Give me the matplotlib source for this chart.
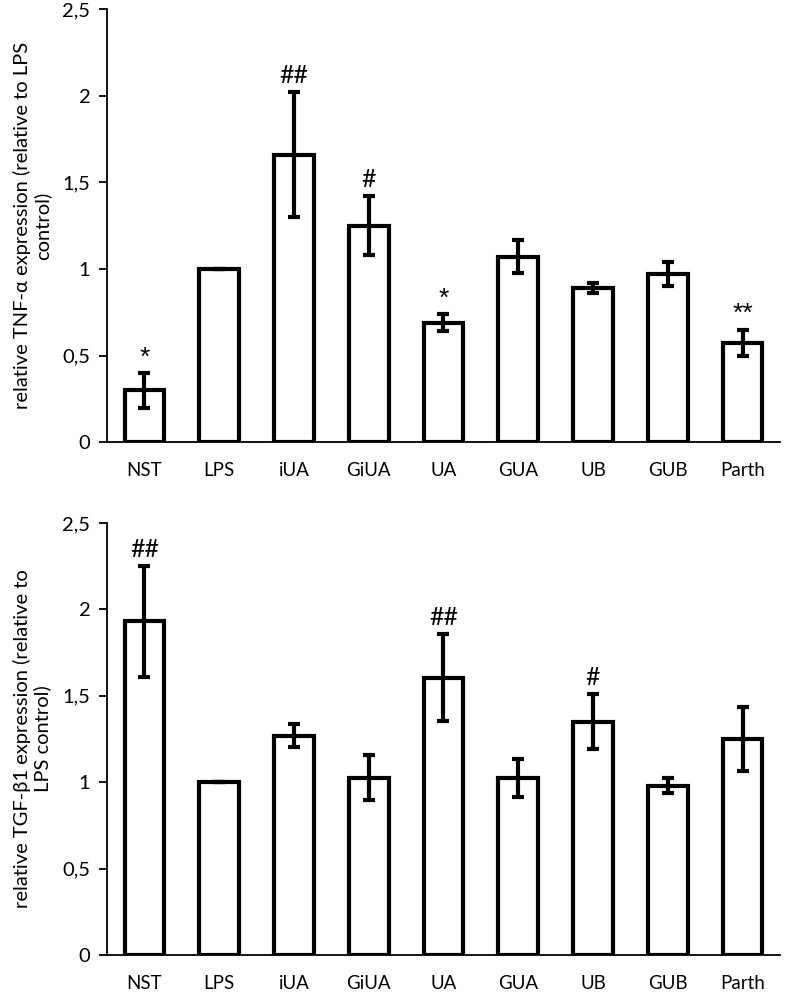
import numpy as np
import matplotlib.pyplot as plt

plt.rcParams['font.family'] = ['Lato', 'DejaVu Sans']

groups = ['NST', 'LPS', 'iUA', 'GiUA', 'UA', 'GUA', 'UB', 'GUB', 'Parth']

tnf_mean = [0.30, 1.00, 1.66, 1.25, 0.69, 1.07, 0.89, 0.97, 0.575]
tnf_err = [0.10, 0.0, 0.36, 0.17, 0.05, 0.095, 0.03, 0.07, 0.075]
tnf_marks = ['*', '', '##', '#', '*', '', '', '', '**']

tgf_mean = [1.93, 1.00, 1.27, 1.025, 1.605, 1.025, 1.35, 0.98, 1.25]
tgf_err = [0.32, 0.0, 0.065, 0.13, 0.25, 0.11, 0.16, 0.045, 0.185]
tgf_marks = ['##', '', '', '', '##', '', '#', '', '']

yticks = [0, 0.5, 1, 1.5, 2, 2.5]
ytick_labels = ['0', '0,5', '1', '1,5', '2', '2,5']

fig = plt.figure(figsize=(7.87, 9.96), dpi=100)
ax1 = fig.add_axes([0.136, 0.556, 0.855, 0.435])
ax2 = fig.add_axes([0.136, 0.041, 0.855, 0.434])

panels = [
    (ax1, tnf_mean, tnf_err, tnf_marks,
     'relative TNF-\u03b1 expression (relative to LPS\ncontrol)'),
    (ax2, tgf_mean, tgf_err, tgf_marks,
     'relative TGF-\u03b21 expression (relative to\nLPS control)'),
]

x = np.arange(len(groups))
for ax, mean, err, marks, label in panels:
    ax.bar(x, mean, width=0.53, color='white', edgecolor='black', linewidth=3, zorder=2)
    ax.errorbar(x, mean, yerr=err, fmt='none', ecolor='black', elinewidth=3,
                capsize=4, capthick=3, zorder=3)
    for xi, m, e, s in zip(x, mean, err, marks):
        if not s:
            continue
        if '#' in s:
            ax.text(xi, m + e + 0.03, s, ha='center', va='bottom', fontsize=18)
        else:
            # bigger, mid-height asterisks like the original
            ax.text(xi, m + e + 0.02, s, ha='center', va='bottom', fontsize=19,
                    family='Liberation Sans')
    ax.set_xlim(-0.5, len(groups) - 0.5)
    ax.set_ylim(0, 2.5)
    ax.set_yticks(yticks)
    ax.set_yticklabels(ytick_labels)
    ax.set_xticks(x)
    ax.set_xticklabels(groups)
    ax.tick_params(axis='x', length=0, pad=14, labelsize=13.5)
    ax.tick_params(axis='y', length=6, width=1.3, pad=6, labelsize=14.5)
    for side in ['top', 'right']:
        ax.spines[side].set_visible(False)
    for side in ['left', 'bottom']:
        ax.spines[side].set_linewidth(1.3)
    ax.set_ylabel(label, fontsize=14.5, linespacing=1.15, labelpad=8, ha='center')

fig.savefig('out.png', dpi=100)
